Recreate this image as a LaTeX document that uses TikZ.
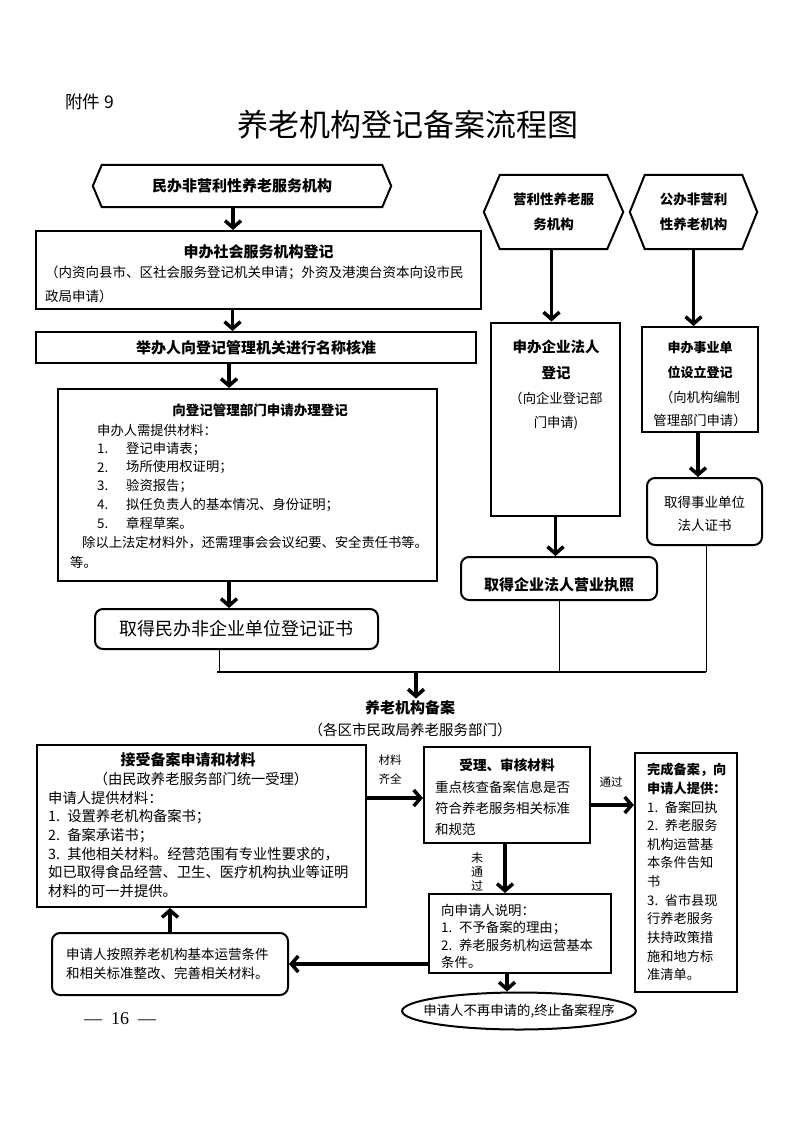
\documentclass[tikz,border=0pt]{standalone}
\usepackage{fontspec}
\setmainfont{Noto Sans CJK SC}
\newfontfamily\pagefont{Liberation Serif}
\usetikzlibrary{arrows.meta,shapes.geometric,positioning}
\newcommand\fsz[2]{\fontsize{#1}{#2}\selectfont}

\tikzset{
  box/.style={draw, line width=2pt, inner sep=0pt},
  roundbox/.style={box, rounded corners=8pt},
  hexbox/.style={inner sep=0pt, align=center},
  txt/.style={inner sep=0pt, anchor=west},
  flow/.style={line width=3.5pt, -{Straight Barb[length=7pt,width=16pt]}},
  joinline/.style={line width=1pt},
  small/.style={inner sep=0pt, align=center, font=\fsz{11.5}{19}},
}

\begin{document}
\begin{tikzpicture}[x=1pt,y=-1pt]
\useasboundingbox (0,0) rectangle (793,1122);

\node[txt, font=\fsz{17.5}{20}] (annex) at (65,102) {附件 9};
\node[inner sep=0pt, font=\fsz{31}{36}] (title) at (408,125) {养老机构登记备案流程图};

% three kinds of institution
\node[hexbox, minimum width=280pt, minimum height=42pt, font=\bfseries\fsz{15}{18}] (hexA) at (242,186) {民办非营利性养老服务机构};
\node[hexbox, minimum width=107pt, minimum height=74pt, font=\bfseries\fsz{13.5}{25}] (hexB) at (553.5,212) {营利性养老服\\务机构};
\node[hexbox, minimum width=97pt, minimum height=74pt, font=\bfseries\fsz{13.5}{25}] (hexC) at (693.5,212) {公办非营利\\性养老机构};
\foreach \h/\d in {hexA/9,hexB/16,hexC/15}
  \draw[line width=2pt] (\h.north west) -- (\h.north east) -- ([xshift=\d pt]\h.east) -- (\h.south east) -- (\h.south west) -- ([xshift=-\d pt]\h.west) -- cycle;

% left column
\node[box, minimum width=445pt, minimum height=78pt] (regA) at (258.5,270) {};
\node[inner sep=0pt, font=\bfseries\fsz{15}{18}] (regAtitle) at (258.5,252) {申办社会服务机构登记};
\node[txt, font=\fsz{13.5}{16}] (regAnote1) at (45,273) {（内资向县市、区社会服务登记机关申请；外资及港澳台资本向设市民};
\node[txt, font=\fsz{13.5}{16}] (regAnote2) at (45,296) {政局申请）};

\node[box, minimum width=440pt, minimum height=31pt, font=\bfseries\fsz{15}{18}] (nameA) at (256,347.5) {举办人向登记管理机关进行名称核准};

\node[box, minimum width=379pt, minimum height=192pt] (applyA) at (247.5,485) {};
\node[inner sep=0pt, font=\bfseries\fsz{13.5}{16}] (applyAtitle) at (260,410) {向登记管理部门申请办理登记};
\node[txt, font=\fsz{13.3}{16}] (applyA0) at (97,430) {申办人需提供材料：};
\foreach \idx/\entry [count=\i] in {1./登记申请表；, 2./场所使用权证明；, 3./验资报告；, 4./拟任负责人的基本情况、身份证明；, 5./章程草案。}
{
  \node[txt, font=\fsz{13.3}{16}] (applyN\i) at (97,430+18.7*\i) {\idx};
  \node[txt, font=\fsz{13.3}{16}] (applyT\i) at (126,430+18.7*\i) {\entry};
}
\node[txt, font=\fsz{13.3}{16}] (applyA6) at (82,543) {除以上法定材料外，还需理事会会议纪要、安全责任书等。};
\node[txt, font=\fsz{13.3}{16}] (applyA7) at (70,562) {等。};

\node[roundbox, minimum width=283pt, minimum height=40pt, font=\fsz{18}{21}] (certA) at (236.5,629) {取得民办非企业单位登记证书};

\draw[flow] ([xshift=-9pt]hexA.south) -- ([xshift=-9pt]hexA.south |- regA.north);
\draw[flow] ([xshift=-26pt]regA.south) -- ([xshift=-26pt]regA.south |- nameA.north);
\draw[flow] ([xshift=-27pt]nameA.south) -- ([xshift=-27pt]nameA.south |- applyA.north);
\draw[flow] ([xshift=-18.5pt]applyA.south) -- ([xshift=-18.5pt]applyA.south |- certA.north);

% for-profit column
\node[box, minimum width=129pt, minimum height=193pt] (regB) at (555.5,419) {};
\foreach \entry/\yy [count=\i] in {申办企业法人/347, 登记/373}
  \node[inner sep=0pt, font=\bfseries\fsz{14.5}{17}] (regBh\i) at (556,\yy) {\entry};
\foreach \entry/\yy [count=\i] in {（向企业登记部/398, 门申请)/423}
  \node[inner sep=0pt, font=\fsz{13.3}{16}] (regBn\i) at (556,\yy) {\entry};
\node[roundbox, minimum width=196pt, minimum height=43pt] (certB) at (559,578.5) {};
\node[inner sep=0pt, font=\bfseries\fsz{15}{18}] (certBtext) at (559,585) {取得企业法人营业执照};
\draw[flow] ([xshift=-2pt]hexB.south) -- ([xshift=-2pt]hexB.south |- regB.north);
\draw[flow] (regB.south) -- (regB.south |- certB.north);

% public column
\node[box, minimum width=116pt, minimum height=105pt] (regC) at (700,379.5) {};
\foreach \entry/\yy [count=\i] in {申办事业单/348, 位设立登记/372}
  \node[inner sep=0pt, font=\bfseries\fsz{13}{16}] (regCh\i) at (700,\yy) {\entry};
\foreach \entry/\yy [count=\i] in {（向机构编制/397, 管理部门申请）/420}
  \node[inner sep=0pt, font=\fsz{13.3}{16}] (regCn\i) at (700,\yy) {\entry};
\node[roundbox, minimum width=115pt, minimum height=67pt] (certC) at (704.5,511.5) {};
\foreach \entry/\yy [count=\i] in {取得事业单位/502, 法人证书/525}
  \node[inner sep=0pt, font=\fsz{13.5}{16}] (certCn\i) at (704.5,\yy) {\entry};
\draw[flow] (hexC.south) -- (hexC.south |- regC.north);
\draw[flow] ([xshift=-2pt]regC.south) -- ([xshift=-2pt]regC.south |- certC.north);

% merge into filing
\coordinate (mergeL) at (217,672);
\coordinate (mergeR) at (706,672);
\coordinate (mergeM) at (416,672);
\draw[line width=2pt] (mergeL) -- (mergeR);
\draw[joinline] ([xshift=-17.5pt]certA.south) -- ([xshift=-17.5pt]certA.south |- mergeL);
\draw[joinline] (certB.south) -- (certB.south |- mergeL);
\draw[joinline] ([xshift=1.5pt]certC.south) -- ([xshift=1.5pt]certC.south |- mergeR);
\node[inner sep=2pt, font=\bfseries\fsz{15}{18}] (fileA) at (410,708) {养老机构备案};
\node[inner sep=0pt, font=\fsz{14.5}{17}] (fileB) at (410,730) {（各区市民政局养老服务部门）};
\draw[flow] (mergeM) -- (mergeM |- fileA.north);

% filing procedure
\node[box, minimum width=329pt, minimum height=162pt] (acceptA) at (201.5,826) {};
\node[inner sep=0pt, font=\bfseries\fsz{15}{18}] (acceptT) at (188,760) {接受备案申请和材料};
\node[inner sep=0pt, font=\fsz{14.3}{17}] (acceptS) at (201,779) {（由民政养老服务部门统一受理）};
\foreach \entry [count=\i] in {申请人提供材料：, 1.\enspace 设置养老机构备案书；, 2.\enspace 备案承诺书；, 3.\enspace 其他相关材料。经营范围有专业性要求的，, 如已取得食品经营、卫生、医疗机构执业等证明, 材料的可一并提供。}
  \node[txt, font=\fsz{14.3}{17}] (acceptL\i) at (48,779.4+18.6*\i) {\entry};

\node[box, minimum width=166pt, minimum height=96pt] (reviewA) at (507,795) {};
\node[inner sep=0pt, font=\bfseries\fsz{13.6}{16}] (reviewT) at (507,765) {受理、审核材料};
\foreach \entry [count=\i] in {重点核查备案信息是否, 符合养老服务相关标准, 和规范}
  \node[txt, font=\fsz{13.5}{16}] (reviewL\i) at (435,766+21*\i) {\entry};

\node[box, minimum width=102pt, minimum height=239pt] (doneA) at (686,872.5) {};
\foreach \entry [count=\i] in {完成备案，向, 申请人提供：}
  \node[txt, font=\bfseries\fsz{13.2}{16}] (doneH\i) at (647,751.4+18.6*\i) {\entry};
\foreach \entry [count=\i from 3] in {1.\enspace 备案回执, 2.\enspace 养老服务, 机构运营基, 本条件告知, 书, 3.\enspace 省市县现, 行养老服务, 扶持政策措, 施和地方标, 准清单。}
  \node[txt, font=\fsz{13.2}{16}] (doneL\i) at (647,751.4+18.6*\i) {\entry};

\node[box, minimum width=182pt, minimum height=79pt] (replyA) at (520,933.5) {};
\begin{scope}
  \clip (replyA.north west) rectangle ([yshift=7pt]replyA.south east);
  \foreach \entry [count=\i] in {向申请人说明：, 1.\enspace 不予备案的理由；, 2.\enspace 养老服务机构运营基本, 条件。}
    \node[txt, font=\fsz{13.4}{16}] (replyL\i) at (441,892.5+17.5*\i) {\entry};
\end{scope}

\node[roundbox, minimum width=236pt, minimum height=62pt] (fixA) at (170,964) {};
\foreach \entry [count=\i] in {申请人按照养老机构基本运营条件, 和相关标准整改、完善相关材料。}
  \node[txt, font=\fsz{13.5}{16}] (fixL\i) at (66,935+19*\i) {\entry};

\node[box, ellipse, inner xsep=-13pt, inner ysep=0pt, minimum height=37pt, font=\fsz{13.4}{16}] (stopA) at (519,1011) {申请人不再申请的,终止备案程序};

\node[small] (okA) at (390,769.5) {材料\\齐全};
\node[small] (passA) at (611,782) {通过};
\node[fill=white, inner sep=1pt, align=center, font=\fsz{12}{14}] (failA) at (477,872) {未\\通\\过};

\draw[flow] ([yshift=28pt]acceptA.east) -- ([yshift=28pt]acceptA.east -| reviewA.west);
\draw[flow] ([yshift=-10pt]reviewA.east) -- ([yshift=-10pt]reviewA.east -| doneA.west);
\draw[flow] ([xshift=-2pt]reviewA.south) -- ([xshift=-2pt]reviewA.south |- replyA.north);
\draw[flow] (replyA.west |- fixA.east) -- (fixA.east);
\draw[flow] (fixA.north) -- (fixA.north |- acceptA.south);
\draw[flow] ([xshift=-13pt]replyA.south) -- ([xshift=-13pt]replyA.south |- stopA.north);

\node[inner sep=0pt, font=\pagefont\fsz{18}{20}] (pageNo) at (120,1019) {—\enspace 16\enspace —};
\end{tikzpicture}
\end{document}
